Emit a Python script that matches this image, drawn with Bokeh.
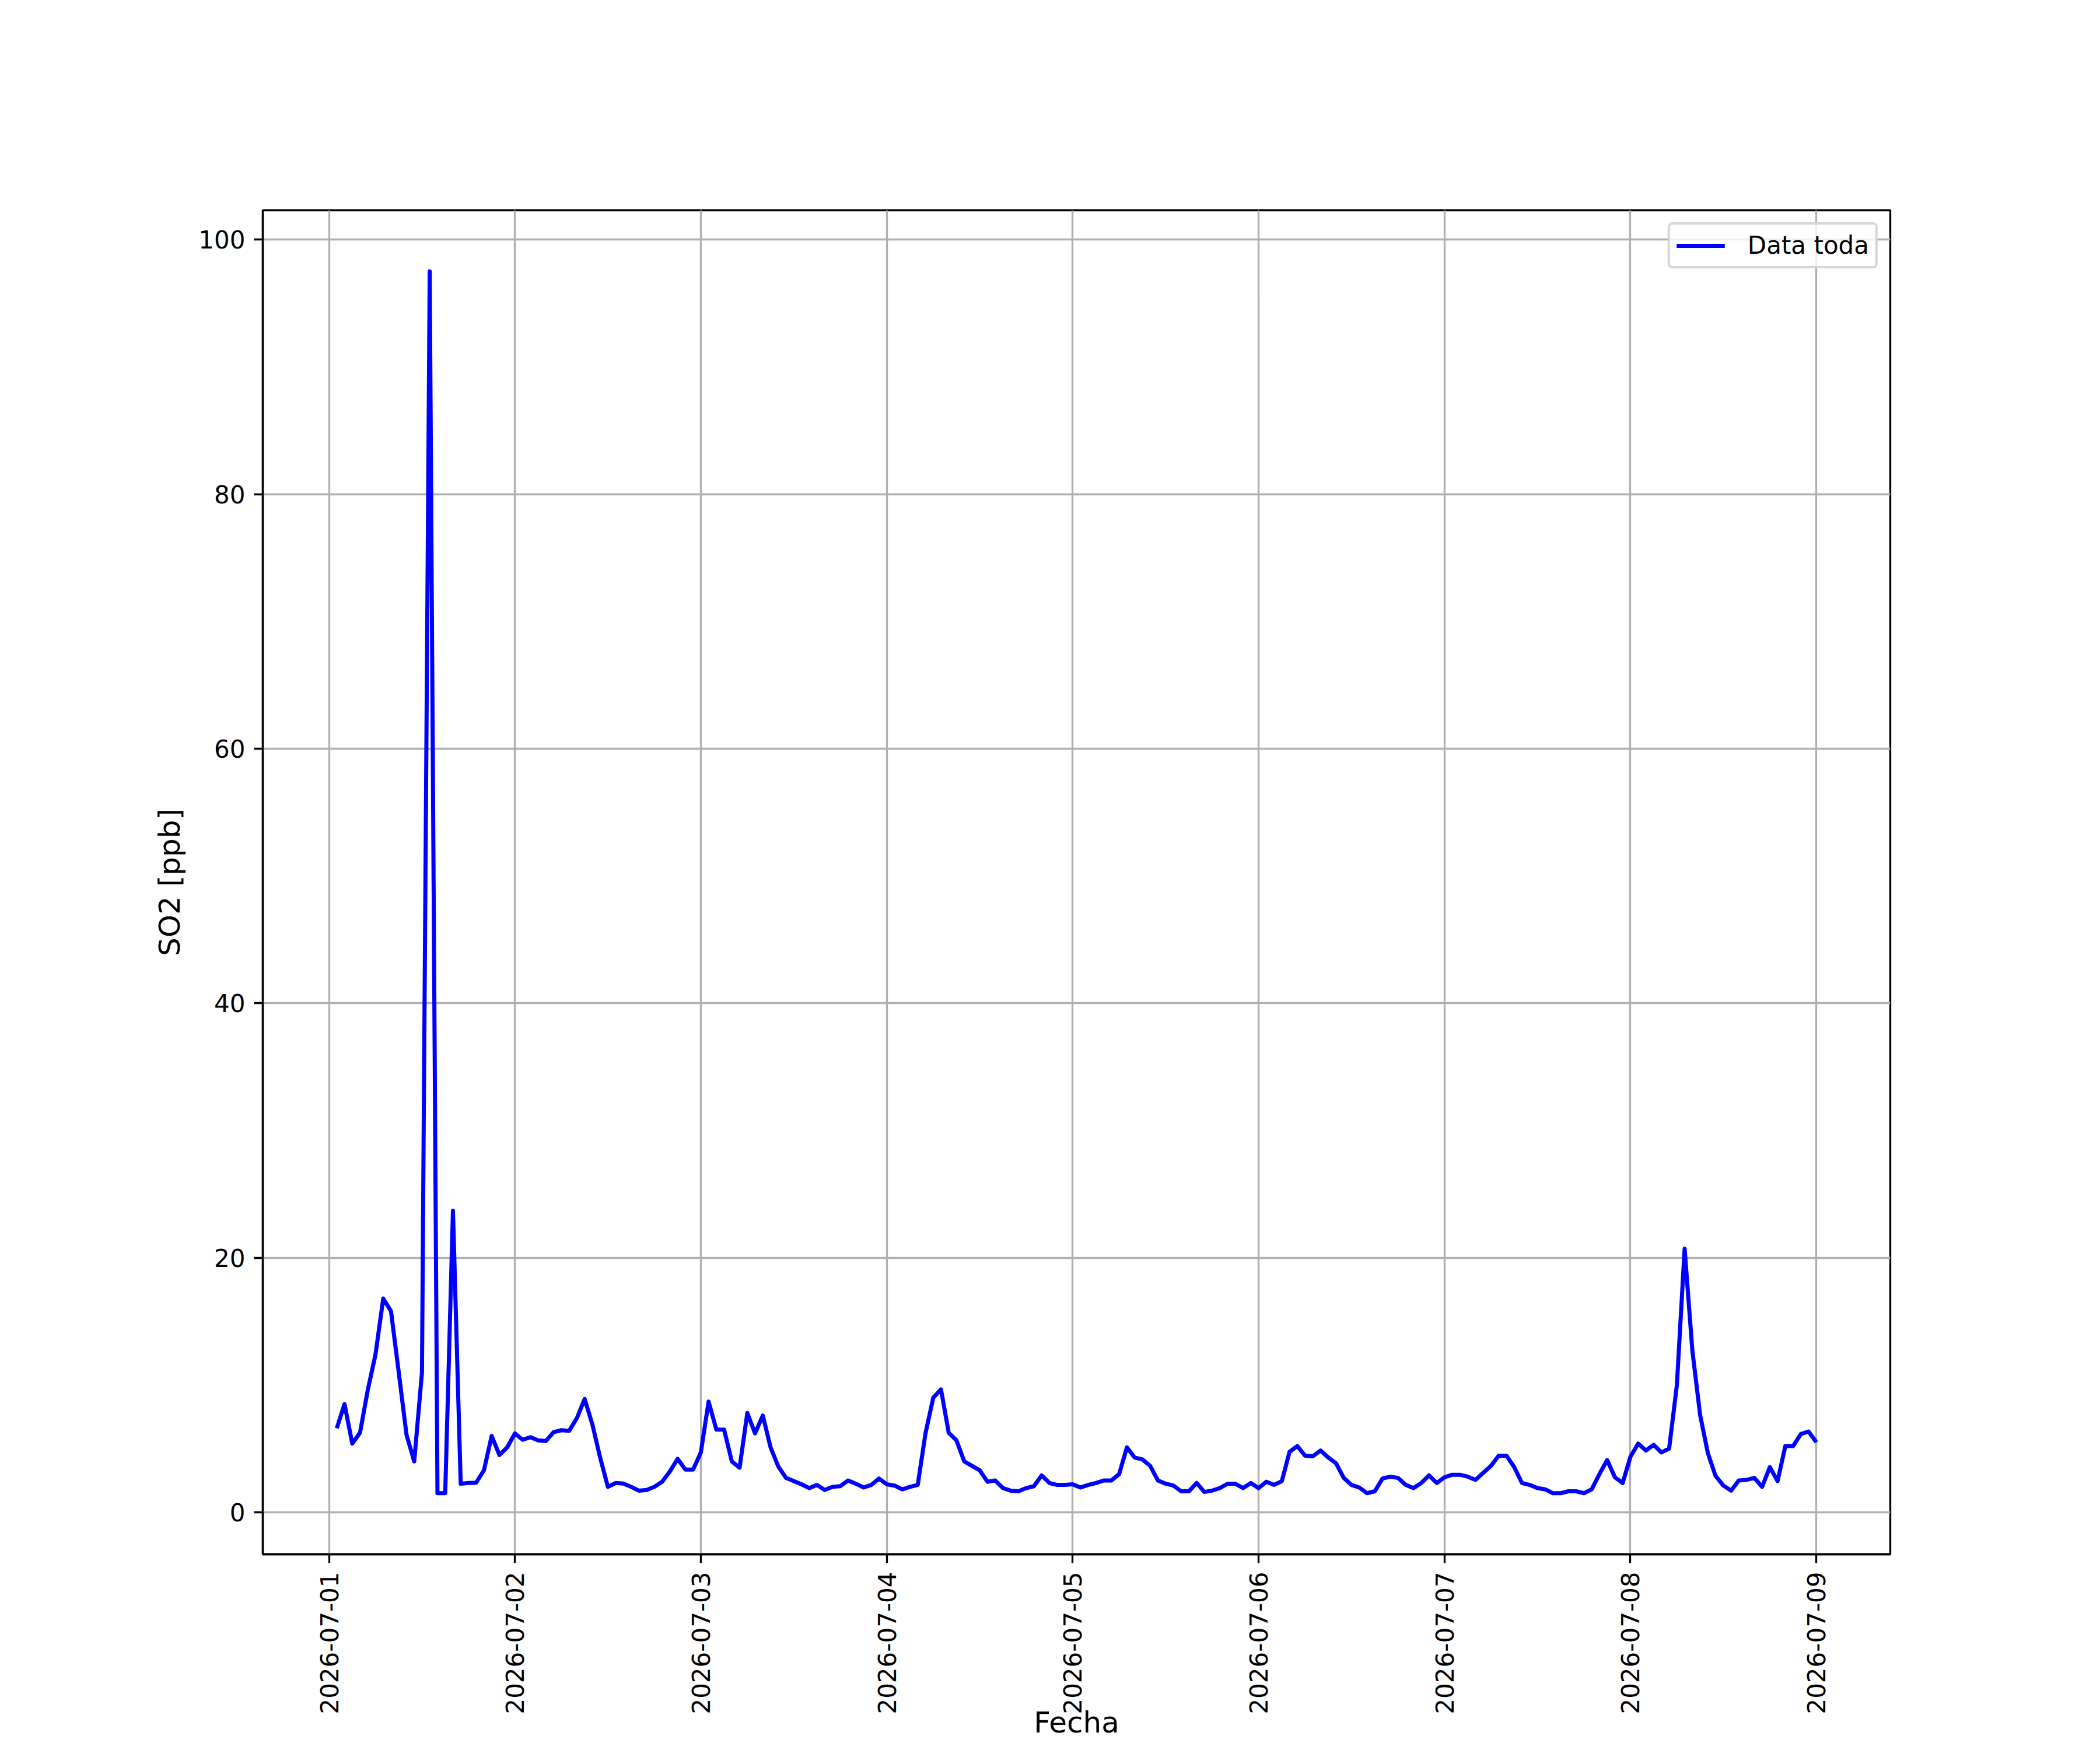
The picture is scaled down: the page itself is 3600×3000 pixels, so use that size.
import numpy as np
import pandas as pd
from math import pi

from bokeh.embed import file_html
from bokeh.resources import INLINE
from bokeh.plotting import figure
from bokeh.models import (ColumnDataSource, Range1d, FixedTicker,
                          DatetimeTickFormatter)

# hourly SO2 [ppb], one list per day, 01:00 ... 24:00
so2_jul01 = [6.6, 8.5, 5.4, 6.25, 9.6, 12.4, 16.8, 15.8, 11.0, 6.1, 4.0, 11.0,
             97.5, 1.5, 1.5, 23.7, 2.24, 2.3, 2.33, 3.3, 6.0, 4.5, 5.1, 6.2]
so2_jul02 = [5.7, 5.9, 5.65, 5.6, 6.3, 6.45, 6.4, 7.4, 8.9, 6.9, 4.3, 2.0,
             2.3, 2.26, 2.0, 1.7, 1.75, 2.0, 2.4, 3.2, 4.2, 3.36, 3.36, 4.7]
so2_jul03 = [8.7, 6.5, 6.5, 4.0, 3.5, 7.8, 6.2, 7.6, 5.1, 3.6, 2.7, 2.45,
             2.2, 1.9, 2.15, 1.75, 2.0, 2.05, 2.5, 2.25, 1.95, 2.15, 2.65, 2.2]
so2_jul04 = [2.1, 1.8, 2.0, 2.15, 6.2, 9.0, 9.65, 6.25, 5.65, 4.0, 3.65, 3.3,
             2.4, 2.5, 1.9, 1.7, 1.65, 1.9, 2.05, 2.9, 2.3, 2.15, 2.15, 2.2]
so2_jul05 = [1.95, 2.15, 2.3, 2.5, 2.5, 3.0, 5.1, 4.3, 4.15, 3.65, 2.5, 2.25,
             2.1, 1.65, 1.65, 2.3, 1.6, 1.7, 1.9, 2.25, 2.25, 1.9, 2.3, 1.9]
so2_jul06 = [2.4, 2.15, 2.45, 4.75, 5.2, 4.45, 4.4, 4.85, 4.3, 3.85, 2.7, 2.15,
             1.95, 1.5, 1.65, 2.65, 2.8, 2.7, 2.15, 1.9, 2.3, 2.9, 2.3, 2.75]
so2_jul07 = [2.95, 2.95, 2.8, 2.55, 3.1, 3.65, 4.45, 4.45, 3.55, 2.3, 2.15, 1.9,
             1.8, 1.5, 1.5, 1.65, 1.65, 1.5, 1.8, 3.0, 4.1, 2.75, 2.3, 4.35]
so2_jul08 = [5.4, 4.85, 5.3, 4.7, 5.0, 10.0, 20.7, 12.7, 7.65, 4.65, 2.85, 2.1,
             1.7, 2.5, 2.55, 2.7, 2.0, 3.55, 2.45, 5.2, 5.2, 6.15, 6.35, 5.5]

day_ticks = pd.date_range("2026-07-01", "2026-07-09", freq="D")
y_ticks = [0, 20, 40, 60, 80, 100]

so2 = (so2_jul01 + so2_jul02 + so2_jul03 + so2_jul04 +
       so2_jul05 + so2_jul06 + so2_jul07 + so2_jul08)
fecha = pd.date_range("2026-07-01 01:00", periods=len(so2), freq="h")

src = ColumnDataSource(data=dict(fecha=fecha, so2=so2))

# matplotlib style 5% margins
span = fecha[-1] - fecha[0]
ymin, ymax = min(so2), max(so2)
ypad = 0.05 * (ymax - ymin)

FONT = "DejaVu Sans"
LW = 3.3

p = figure(width=3584, height=2984, x_axis_type="datetime",
           x_range=Range1d(fecha[0] - 0.05 * span, fecha[-1] + 0.05 * span),
           y_range=Range1d(ymin - ypad, ymax + ypad),
           output_backend="svg", toolbar_location=None,
           min_border_left=450, min_border_right=344,
           min_border_top=360, min_border_bottom=314)

p.line("fecha", "so2", source=src, color="blue", line_width=7,
       line_join="round", legend_label="Data toda")

tick_ms = [t.timestamp() * 1000 for t in day_ticks]
p.xaxis.ticker = FixedTicker(ticks=tick_ms)
p.xgrid.ticker = FixedTicker(ticks=tick_ms)
p.xaxis.formatter = DatetimeTickFormatter(hours="%Y-%m-%d", days="%Y-%m-%d",
                                          months="%Y-%m-%d", hourmin="%Y-%m-%d")
p.xaxis.major_label_orientation = pi / 2
p.yaxis.ticker = FixedTicker(ticks=y_ticks)
p.ygrid.ticker = FixedTicker(ticks=y_ticks)

for ax in (p.xaxis, p.yaxis):
    ax.major_label_text_font = FONT
    ax.major_label_text_font_size = "42px"
    ax.major_label_text_color = "black"
    ax.major_label_standoff = 15
    ax.major_tick_out = 15
    ax.major_tick_in = 0
    ax.major_tick_line_width = LW
    ax.major_tick_line_color = "black"
    ax.minor_tick_line_color = None
    ax.axis_line_width = LW
    ax.axis_line_color = "black"
    ax.axis_label_text_font = FONT
    ax.axis_label_text_font_size = "50px"
    ax.axis_label_text_font_style = "normal"
    ax.axis_label_text_color = "black"

p.xaxis.axis_label = "Fecha"
p.xaxis.axis_label_standoff = -18
p.yaxis.axis_label = "SO2 [ppb]"
p.yaxis.axis_label_standoff = 17

for g in (p.xgrid, p.ygrid):
    g.grid_line_color = "#b0b0b0"
    g.grid_line_width = LW

p.outline_line_color = "black"
p.outline_line_width = LW
p.outline_line_alpha = 1.0
p.background_fill_color = "white"
p.border_fill_color = "white"

leg = p.legend[0]
leg.location = "top_right"
leg.margin = 21
leg.padding = 11
leg.spacing = 0
leg.glyph_width = 83
leg.glyph_height = 42
leg.label_standoff = 39
leg.label_text_font = FONT
leg.label_text_font_size = "42px"
leg.label_text_color = "black"
leg.border_line_color = "#cccccc"
leg.border_line_width = 4
leg.border_line_alpha = 0.8
leg.background_fill_alpha = 0.8
if "border_radius" in leg.properties():
    leg.border_radius = 8

open("out.html", "w").write(file_html(p, INLINE))
